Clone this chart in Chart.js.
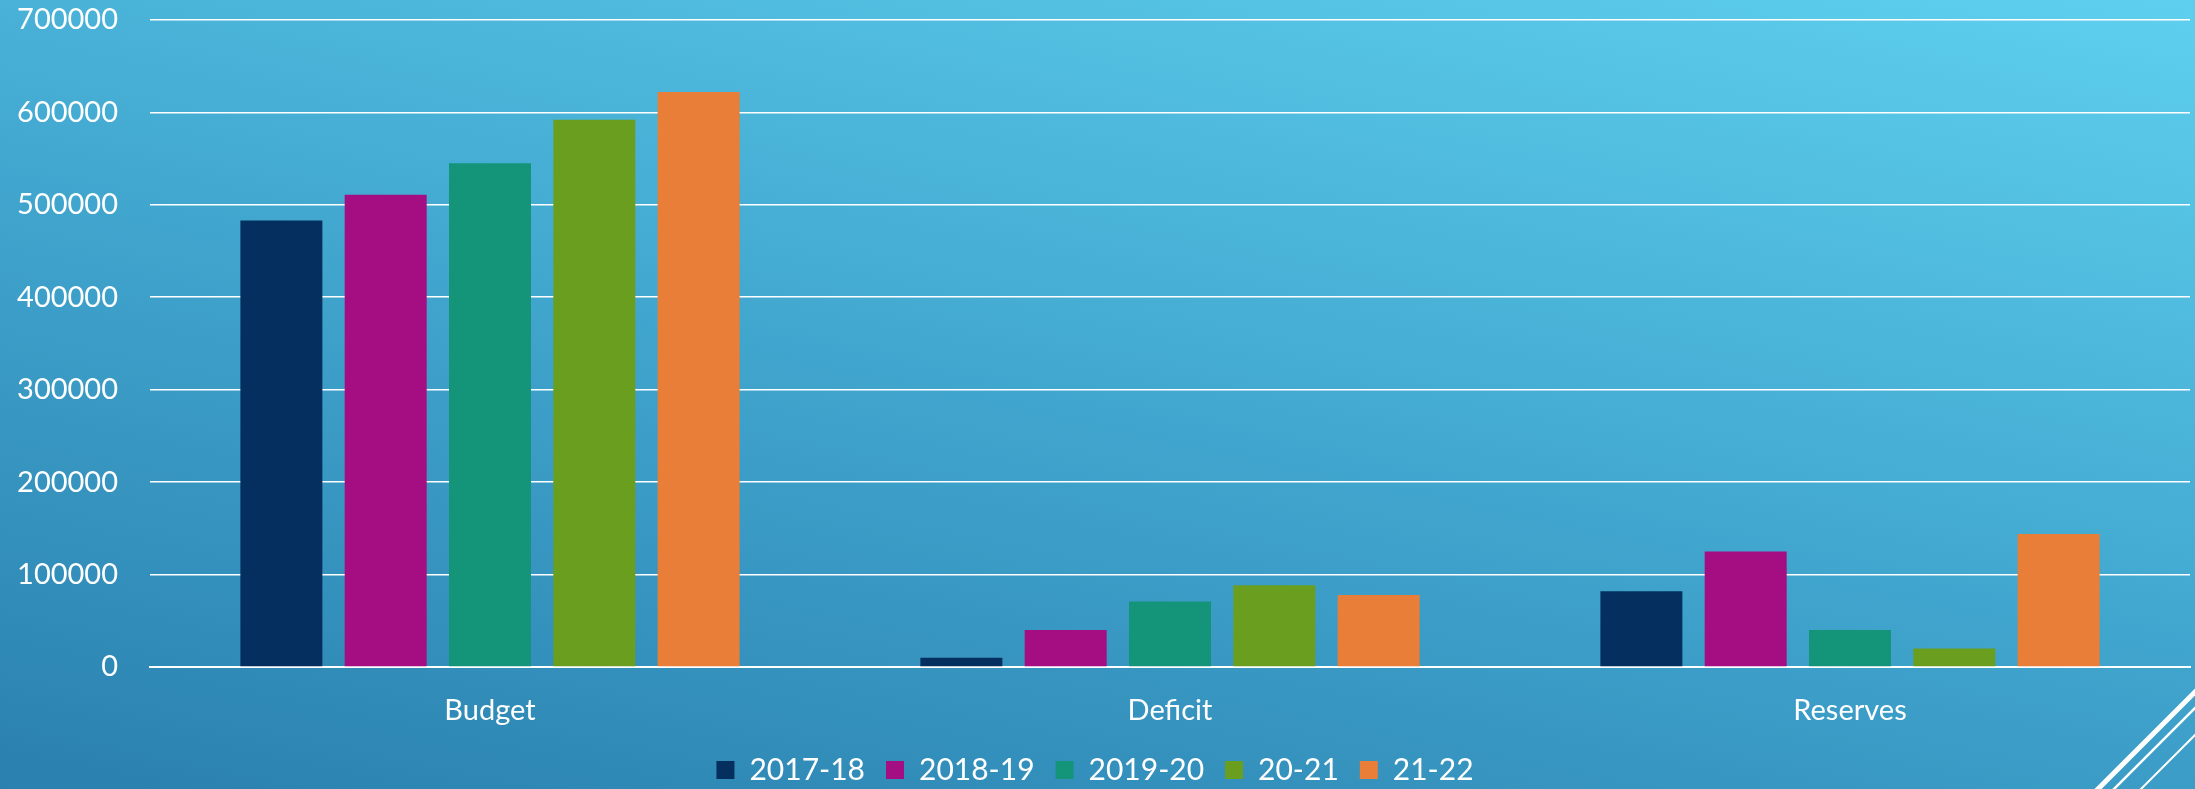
<!DOCTYPE html>
<html>
<head>
<meta charset="utf-8">
<script src="https://cdn.jsdelivr.net/npm/chart.js@4/dist/chart.umd.min.js"></script>
<style>
html,body{margin:0;padding:0;width:2195px;height:789px;overflow:hidden;}
body{background:linear-gradient(12deg,#2a80ae 0%,#3fa3cc 45%,#5ed0ee 100%);}
#wrap{position:relative;width:2195px;height:789px;}
canvas{position:absolute;left:0;top:0;}
svg{position:absolute;left:0;top:0;pointer-events:none;}
</style>
</head>
<body>
<div id="wrap">
<canvas id="c" width="2195" height="789"></canvas>
<svg width="2195" height="789" viewBox="0 0 2195 789">
  <line x1="2197" y1="690" x2="2096" y2="791" stroke="#fff" stroke-width="5"/>
  <line x1="2197" y1="706" x2="2112" y2="791" stroke="#fff" stroke-width="2.5"/>
  <line x1="2197" y1="733" x2="2139" y2="791" stroke="#fff" stroke-width="2"/>
</svg>
</div>
<script>
const categories = ['Budget', 'Deficit', 'Reserves'];
const seriesNames = ['2017-18', '2018-19', '2019-20', '20-21', '21-22'];
const values2017_18 = [483000, 10000, 82000];
const values2018_19 = [511000, 40000, 125000];
const values2019_20 = [545000, 71000, 40000];
const values2020_21 = [592000, 88500, 20000];
const values2021_22 = [622000, 78000, 144000];
const seriesColors = ['#042f5f', '#a50e82', '#14957a', '#6a9e1f', '#e87e37'];
const yTickLabels = ['0', '100000', '200000', '300000', '400000', '500000', '600000', '700000'];

const allValues = [values2017_18, values2018_19, values2019_20, values2020_21, values2021_22];
const FONT = 'Lato, "Open Sans", "DejaVu Sans", sans-serif';

const datasets = seriesNames.map((name, i) => ({
  label: name,
  data: allValues[i],
  backgroundColor: seriesColors[i],
  borderWidth: 0,
  categoryPercentage: 0.767,
  barPercentage: 0.786
}));

new Chart(document.getElementById('c'), {
  type: 'bar',
  data: { labels: categories, datasets },
  options: {
    responsive: false,
    devicePixelRatio: 1,
    animation: false,
    layout: { padding: { left: 0, right: 5, top: 20, bottom: -6 } },
    plugins: {
      tooltip: { enabled: false },
      legend: {
        position: 'bottom',
        labels: {
          color: '#ffffff',
          boxWidth: 18,
          boxHeight: 18,
          padding: 21,
          font: { family: FONT, size: 30 }
        }
      }
    },
    scales: {
      x: {
        grid: { display: false, drawTicks: false },
        border: { display: true, color: '#ffffff', width: 2 },
        ticks: { color: '#ffffff', font: { family: FONT, size: 29 }, padding: 26 },
        afterFit: (s) => { s.height = 67; }
      },
      y: {
        min: 0,
        max: 700000,
        afterFit: (s) => { s.width = 150; },
        ticks: {
          stepSize: 100000,
          color: '#ffffff',
          padding: 0,
          font: { family: FONT, size: 29 },
          callback: (v, i) => yTickLabels[i]
        },
        grid: { color: '#ffffff', lineWidth: 1.6, drawTicks: true, tickLength: 32, tickColor: 'rgba(0,0,0,0)' },
        border: { display: false }
      }
    }
  }
});
</script>
</body>
</html>
